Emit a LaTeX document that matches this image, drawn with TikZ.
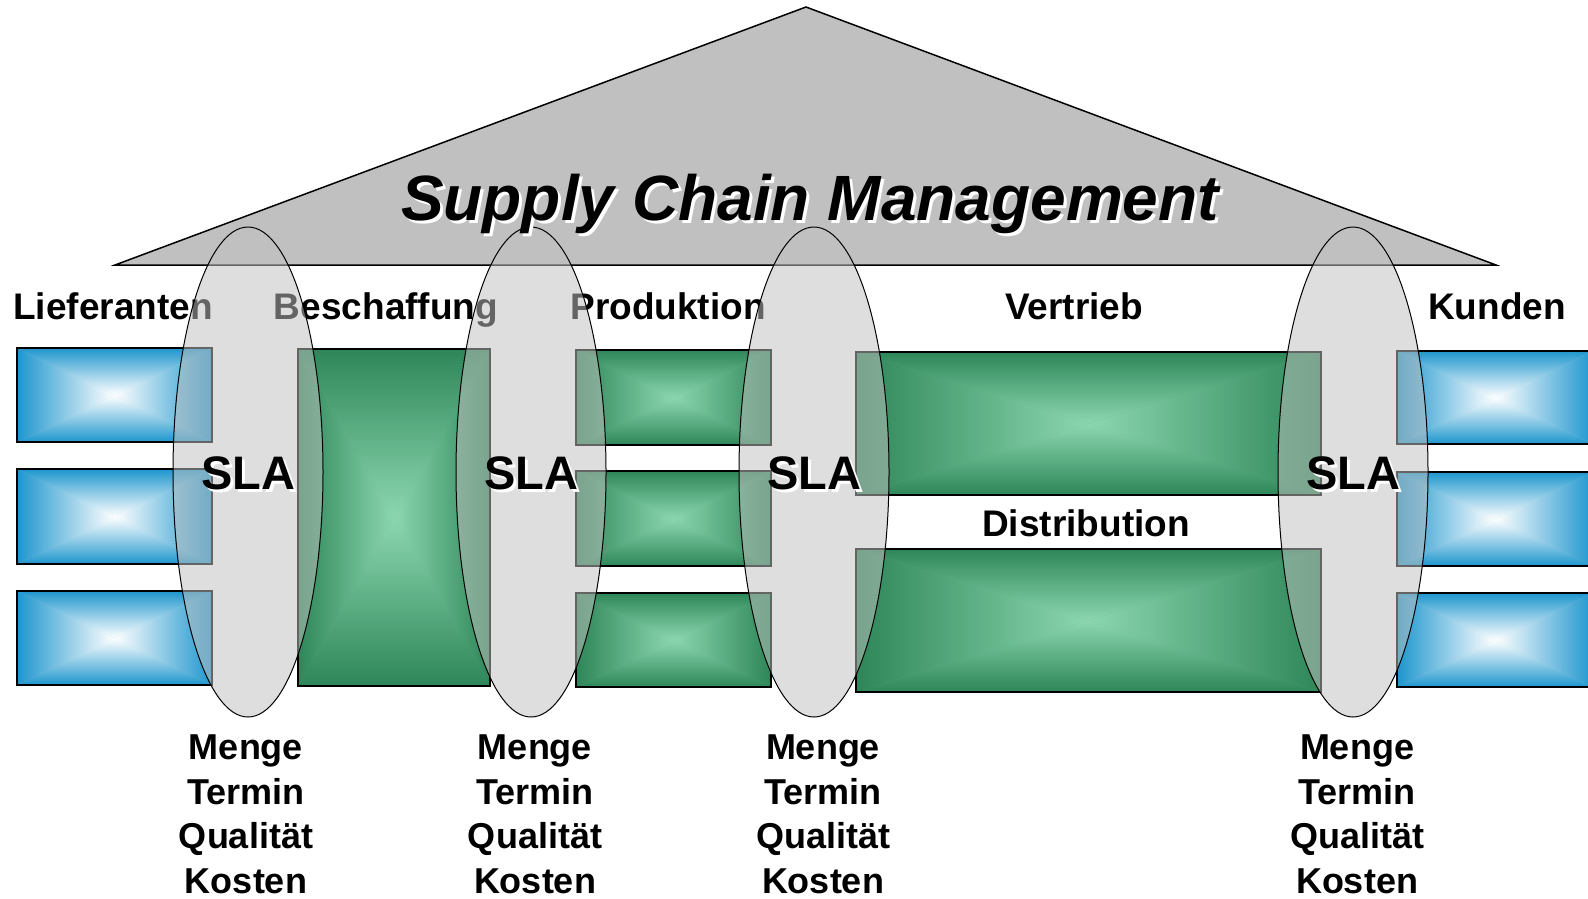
\documentclass[tikz,border=0pt]{standalone}
\usepackage{fontspec}
\setmainfont{Liberation Sans}
\usetikzlibrary{positioning,calc}

\definecolor{roofgray}{RGB}{192,192,192}
\definecolor{boxblue}{RGB}{30,150,205}
\definecolor{boxgreen}{RGB}{46,134,88}
\definecolor{lightgreen}{RGB}{140,215,176}

\tikzset{
  boxline/.style={draw=black, line width=1.3pt},
  slaring/.style={draw=black, line width=1pt, fill=roofgray, fill opacity=0.52},
  stagelabel/.style={font=\bfseries\fontsize{37}{44}\selectfont, inner sep=0pt, anchor=base},
  critlabel/.style={font=\bfseries\fontsize{36}{44.5}\selectfont, align=center, inner sep=0pt, anchor=north},
  slalabel/.style={font=\bfseries\fontsize{47}{50}\selectfont, inner sep=0pt},
  titlelabel/.style={font=\bfseries\itshape\fontsize{64}{70}\selectfont, inner sep=0pt, anchor=base},
}

% box with a gradient from the centre to the edges
\newcommand{\gradbox}[5]{%
  \coordinate (#1-nw) at #2;
  \coordinate (#1-se) at #3;
  \coordinate (#1) at ($(#1-nw)!0.5!(#1-se)$);
  \coordinate (#1-ne) at (#1-nw -| #1-se);
  \coordinate (#1-sw) at (#1-nw |- #1-se);
  \fill[#4!50!#5] (#1-nw) rectangle (#1-se);
  \shade[top color=#4, bottom color=#5] (#1-nw) -- (#1-ne) -- (#1) -- cycle;
  \shade[top color=#5, bottom color=#4] (#1-sw) -- (#1-se) -- (#1) -- cycle;
  \shade[left color=#4, right color=#5] (#1-nw) -- (#1-sw) -- (#1) -- cycle;
  \shade[left color=#5, right color=#4] (#1-ne) -- (#1-se) -- (#1) -- cycle;
  \draw[boxline] (#1-nw) rectangle (#1-se);
}

\begin{document}
\begin{tikzpicture}[x=1pt,y=1pt,yscale=-1]
\useasboundingbox (0,0) rectangle (1588,898);

%Shape: Roof
\draw[fill=roofgray, line width=1.5pt, line join=miter] (115,265) -- (806,7) -- (1496,265) -- cycle;

%Shape: Lieferanten boxes
\gradbox{lief1}{(17,348)}{(212,442)}{boxblue}{white}
\gradbox{lief2}{(17,469)}{(212,564)}{boxblue}{white}
\gradbox{lief3}{(17,591)}{(212,685)}{boxblue}{white}
%Shape: Beschaffung box
\gradbox{besch}{(298,349)}{(490,686)}{boxgreen}{lightgreen}
%Shape: Produktion boxes
\gradbox{prod1}{(576,350)}{(771,445)}{boxgreen}{lightgreen}
\gradbox{prod2}{(576,471)}{(771,566)}{boxgreen}{lightgreen}
\gradbox{prod3}{(576,593)}{(771,687)}{boxgreen}{lightgreen}
%Shape: Vertrieb and Distribution boxes
\gradbox{vert}{(856,352)}{(1321,495)}{boxgreen}{lightgreen}
\gradbox{dist}{(856,549)}{(1321,692)}{boxgreen}{lightgreen}
%Shape: Kunden boxes
\gradbox{kund1}{(1397,351)}{(1593,444)}{boxblue}{white}
\gradbox{kund2}{(1397,472)}{(1593,566)}{boxblue}{white}
\gradbox{kund3}{(1397,593)}{(1593,687)}{boxblue}{white}

% Text Node
\node[stagelabel] (lieferanten) at (113,319) {Lieferanten};
\node[stagelabel] (beschaffung) at (386,319) {Beschaffung};
\node[stagelabel] (produktion) at (668,319) {Produktion};
\node[stagelabel] (vertrieb) at (1074,319) {Vertrieb};
\node[stagelabel] (kunden) at (1497,319) {Kunden};
\node[stagelabel] (distribution) at (1086,536) {Distribution};

%Shape: SLA ellipses
\foreach \x/\c/\n in {248/246/a,531/535/b,814/823/c,1353/1357/d} {
  \draw[slaring] (\x,472) ellipse [x radius=75, y radius=245];
  \node[slalabel, white] (sla-\n-shadow) at (\x+3,476) {SLA};
  \node[slalabel] (sla-\n) at (\x,473) {SLA};
  \node[critlabel] (crit-\n) at (\c,735) {Menge\\Termin\\Qualität\\Kosten};
}

% Text Node
\node[titlelabel, white] (title-shadow) at (813,223) {Supply Chain Management};
\node[titlelabel] (title) at (810,220) {Supply Chain Management};

\end{tikzpicture}
\end{document}
